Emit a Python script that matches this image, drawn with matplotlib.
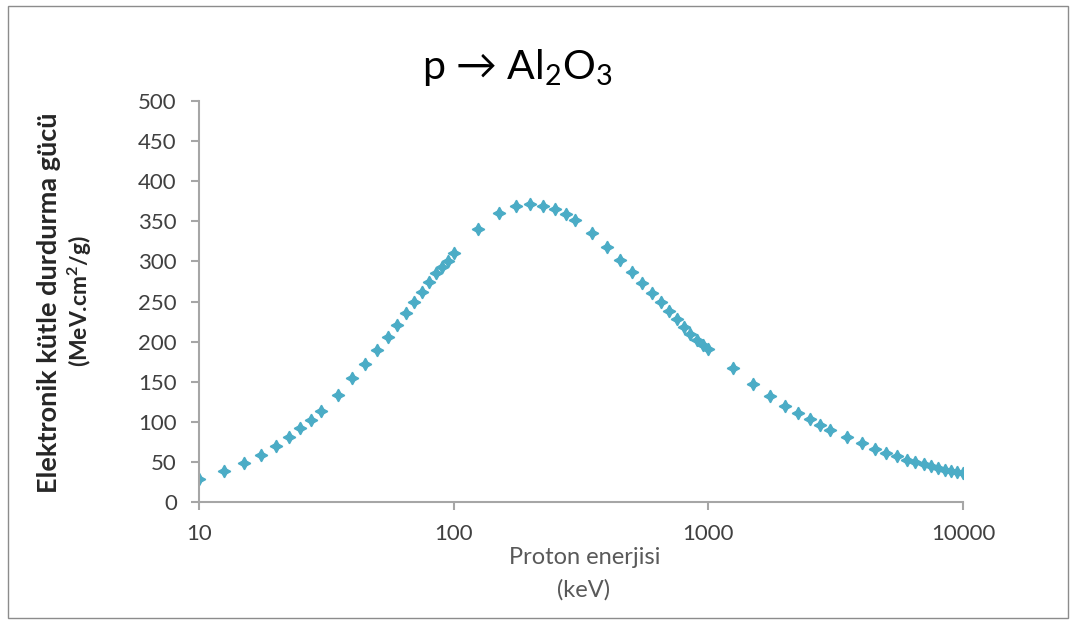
import matplotlib
matplotlib.use("Agg")
import matplotlib.pyplot as plt
from matplotlib.patches import Rectangle

energy_keV = [10, 12.5, 15, 17.5, 20, 22.5, 25, 27.5, 30, 35, 40, 45, 50, 55, 60, 65, 70, 75,
              80, 85, 90, 95, 100, 125, 150, 175, 200, 225, 250, 275, 300, 350, 400, 450,
              500, 550, 600, 650, 700, 750, 800, 850, 900, 950, 1000, 1250, 1500, 1750,
              2000, 2250, 2500, 2750, 3000, 3500, 4000, 4500, 5000, 5500, 6000, 6500, 7000,
              7500, 8000, 8500, 9000, 9500, 10000]
stopping = [29, 39, 49, 59, 70, 81, 92, 102, 113, 133, 155, 172, 190, 206, 221, 236, 249, 262,
            274, 285, 293, 301, 311, 341, 360, 369, 371, 369, 365, 359, 352, 335, 318, 302,
            287, 273, 261, 249, 238, 228, 218, 210, 202, 196, 191, 167, 147, 132,
            120, 111, 103, 96, 90, 81, 73.5, 66, 61, 57, 52, 50, 47,
            45, 42, 40, 38.7, 37.5, 36.5]
y_ticks = [0, 50, 100, 150, 200, 250, 300, 350, 400, 450, 500]
x_ticks = [10, 100, 1000, 10000]

plt.rcParams['font.family'] = ['Lato', 'DejaVu Sans']
plt.rcParams['mathtext.fontset'] = 'custom'
plt.rcParams['mathtext.rm'] = 'Lato'
plt.rcParams['mathtext.bf'] = 'Lato:bold'

W, H = 1076, 623
fig = plt.figure(figsize=(W / 100, H / 100), dpi=100)
fig.patch.set_facecolor('white')
fig.patches.append(Rectangle((8 / W, 5 / H), 1060 / W, 612 / H, transform=fig.transFigure,
                             fill=False, edgecolor='#8c8c8c', linewidth=1.0))

ax = fig.add_axes([199 / W, 1 - 502 / H, (963 - 199) / W, (502 - 101) / H])
ax.plot(energy_keV, stopping, linestyle='none', marker=(4, 1, 0), markersize=9,
        color='#4bacc6', markeredgecolor='#4bacc6', markeredgewidth=1.0)

ax.set_xscale('log')
ax.set_xlim(10, 10000)
ax.set_ylim(0, 500)
ax.set_xticks(x_ticks)
ax.set_xticklabels([str(t) for t in x_ticks])
ax.xaxis.set_minor_locator(matplotlib.ticker.NullLocator())
ax.set_yticks(y_ticks)
ax.set_yticklabels([str(t) for t in y_ticks])

for s in ['top', 'right']:
    ax.spines[s].set_visible(False)
for s in ['left', 'bottom']:
    ax.spines[s].set_color('#a6a6a6')
    ax.spines[s].set_linewidth(1.5)
ax.tick_params(axis='both', colors='#a6a6a6', width=1.5, length=6, labelsize=16,
               labelcolor='#404040')
ax.tick_params(axis='x', pad=10)
ax.tick_params(axis='y', pad=10)

fig.text(517 / W, 1 - 68 / H, 'p → Al$_2$O$_3$', ha='center', va='center',
         fontsize=29.5, color='black')

fig.text(49 / W, 1 - 303 / H, 'Elektronik kütle durdurma gücü', rotation=90,
         ha='center', va='center', fontsize=19.5, fontweight='bold', color='#262626')
fig.text(80 / W, 1 - 301 / H, r'(MeV.cm$\mathbf{^{2}}$/g)', rotation=90,
         ha='center', va='center', fontsize=16.5, fontweight='bold', color='#262626')

fig.text(585 / W, 1 - 558 / H, 'Proton enerjisi', ha='center', va='center',
         fontsize=17, color='#595959')
fig.text(584 / W, 1 - 590 / H, '(keV)', ha='center', va='center',
         fontsize=17, color='#595959')

fig.savefig('out.png', dpi=100)
